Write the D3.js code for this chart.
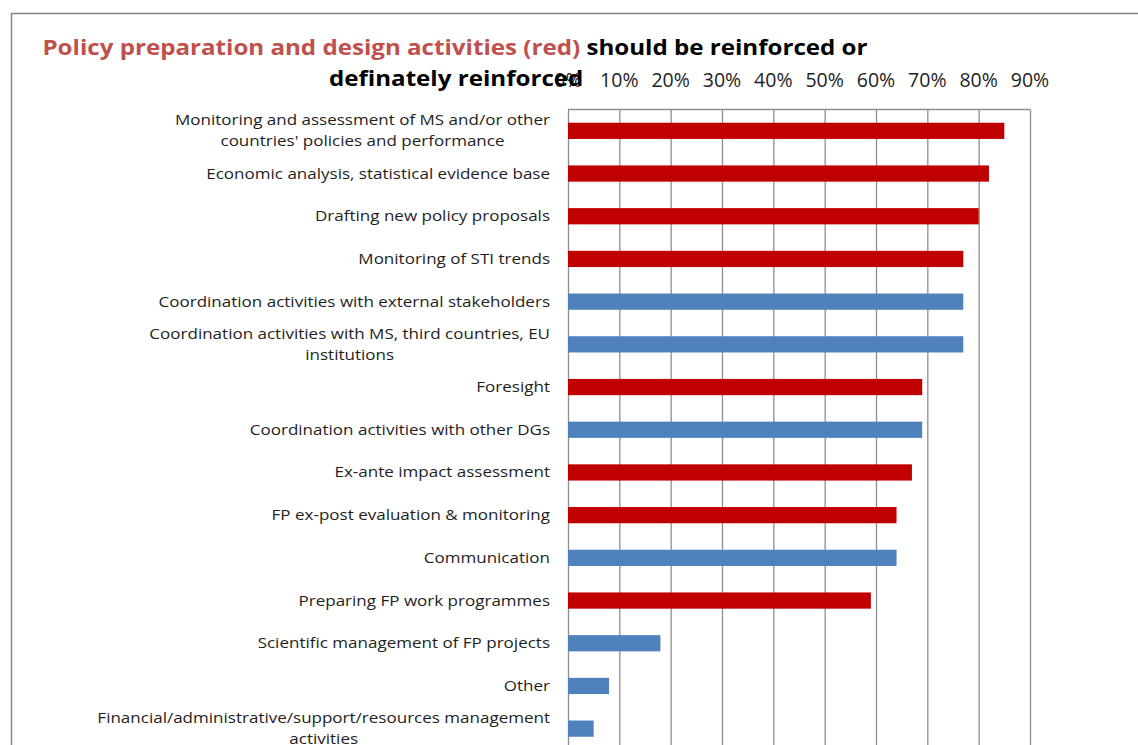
<!DOCTYPE html>
<html>
<head>
<meta charset="utf-8">
<script src="https://cdn.jsdelivr.net/npm/d3@7"></script>
<style>
  body { margin: 0; background: #fff; }
  svg { display: block; font-family: "Open Sans", sans-serif; }
  .grid line { stroke: #8e8e8e; stroke-width: 1.3; }
  .grid path { display: none; }
  .cat { font-size: 15px; fill: #1e1e1e; }
  .tick-label { font-size: 19.5px; fill: #1e1e1e; }
</style>
</head>
<body>
<div id="chart"></div>
<script>
// categories top to bottom, as wrapped in the original
var categories = [
  "Monitoring and assessment of MS and/or other\ncountries' policies and performance",
  "Economic analysis, statistical evidence base",
  "Drafting new policy proposals",
  "Monitoring of STI trends",
  "Coordination activities with external stakeholders",
  "Coordination activities with MS, third countries, EU\ninstitutions",
  "Foresight",
  "Coordination activities with other DGs",
  "Ex-ante impact assessment",
  "FP ex-post evaluation & monitoring",
  "Communication",
  "Preparing FP work programmes",
  "Scientific management of FP projects",
  "Other",
  "Financial/administrative/support/resources management\nactivities"
];
// share saying "reinforced or definately reinforced"
var values = [0.85, 0.82, 0.80, 0.77, 0.77, 0.77, 0.69, 0.69, 0.67, 0.64, 0.64, 0.59, 0.18, 0.08, 0.05];
// true = policy preparation and design activity (red)
var isPolicy = [true, true, true, true, false, false, true, false, true, true, false, true, false, false, false];
var tickValues = [0, 0.1, 0.2, 0.3, 0.4, 0.5, 0.6, 0.7, 0.8, 0.9];

var W = 1138, H = 745;
var RED = "#c00000", BLUE = "#4f81bd";

var svg = d3.select("#chart").append("svg")
  .attr("width", W)
  .attr("height", H);

// outer chart frame
svg.append("rect")
  .attr("x", 11.5).attr("y", 13.5)
  .attr("width", W + 20).attr("height", H + 20)
  .attr("fill", "none")
  .attr("stroke", "#868686")
  .attr("stroke-width", 1.5);

var x = d3.scaleLinear()
  .domain([0, 0.9])
  .range([568, 1030]);

var y = d3.scaleBand()
  .domain(categories)
  .range([109.5, 750])
  .paddingInner(0.62)
  .paddingOuter(0.31);

// vertical gridlines
svg.append("g")
  .attr("class", "grid")
  .attr("transform", "translate(0,109.5)")
  .call(d3.axisBottom(x)
    .tickValues(tickValues)
    .tickSize(H)
    .tickFormat(""));

// top border of plot area
svg.append("line")
  .attr("x1", x(0)).attr("x2", x(0.9))
  .attr("y1", 109.5).attr("y2", 109.5)
  .attr("stroke", "#8e8e8e")
  .attr("stroke-width", 1.3);

// bars
svg.append("g")
  .selectAll("rect")
  .data(values)
  .join("rect")
  .attr("x", x(0))
  .attr("y", function(d, i) { return y(categories[i]); })
  .attr("width", function(d) { return x(d) - x(0); })
  .attr("height", y.bandwidth())
  .attr("fill", function(d, i) { return isPolicy[i] ? RED : BLUE; });

// category labels: block right aligned, lines centred
// (the original text is rendered a bit wide, so stretch horizontally)
var labelRight = 550, stretch = 1.135;
var labels = svg.append("g")
  .attr("transform", "translate(" + labelRight + ",0) scale(" + stretch + ",1)")
  .selectAll("text")
  .data(categories)
  .join("text")
  .attr("class", "cat")
  .attr("text-anchor", "middle");

labels.each(function(c) {
  var t = d3.select(this);
  var lines = c.split("\n");
  var cy = y(c) + y.bandwidth() / 2;
  lines.forEach(function(line, j) {
    t.append("tspan")
      .attr("y", cy + (j - (lines.length - 1) / 2) * 21 + 5)
      .text(line);
  });
  var maxW = 0;
  t.selectAll("tspan").each(function() {
    maxW = Math.max(maxW, this.getComputedTextLength());
  });
  t.selectAll("tspan").attr("x", -maxW / 2);
});

// percentage tick labels on top
svg.append("g")
  .selectAll("text")
  .data(tickValues)
  .join("text")
  .attr("class", "tick-label")
  .attr("text-anchor", "middle")
  .attr("x", function(d) { return x(d); })
  .attr("y", 87)
  .text(d3.format(".0%"));

// title
var titleG = svg.append("g")
  .attr("transform", "translate(455,0) scale(1.15,1)")
  .attr("font-weight", "bold")
  .attr("font-size", 21)
  .attr("text-anchor", "middle");

var title = titleG.append("text")
  .attr("x", 0)
  .attr("y", 55);
title.append("tspan").attr("fill", "#c0504d").text("Policy preparation and design activities (red) ");
title.append("tspan").attr("fill", "#000").text("should be reinforced or");

titleG.append("text")
  .attr("x", 1)
  .attr("y", 86)
  .attr("fill", "#000")
  .text("definately reinforced");
</script>
</body>
</html>
